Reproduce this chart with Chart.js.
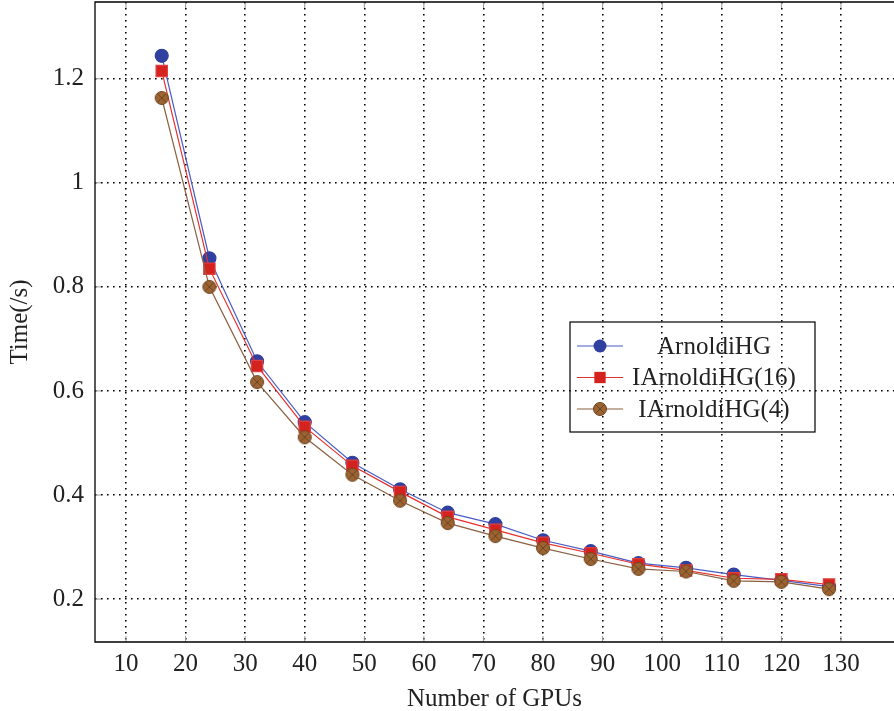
<!DOCTYPE html>
<html>
<head>
<meta charset="utf-8">
<script src="https://cdn.jsdelivr.net/npm/chart.js@4.4.0/dist/chart.umd.min.js"></script>
<style>
  html, body { margin: 0; padding: 0; background: #fff; }
  #wrap { width: 894px; height: 711px; }
</style>
</head>
<body>
<div id="wrap"><canvas id="gpuChart"></canvas></div>
<script>
// values
const gpus = [16, 24, 32, 40, 48, 56, 64, 72, 80, 88, 96, 104, 112, 120, 128];
const arnoldiHG = [1.244, 0.855, 0.657, 0.540, 0.462, 0.411, 0.366, 0.344, 0.313, 0.292, 0.269, 0.260, 0.247, 0.236, 0.224];
const iArnoldi16 = [1.215, 0.835, 0.648, 0.531, 0.456, 0.406, 0.358, 0.333, 0.308, 0.288, 0.267, 0.255, 0.240, 0.238, 0.228];
const iArnoldi4 = [1.163, 0.800, 0.617, 0.511, 0.439, 0.389, 0.346, 0.321, 0.298, 0.277, 0.258, 0.253, 0.235, 0.233, 0.219];
const xTicks = [10, 20, 30, 40, 50, 60, 70, 80, 90, 100, 110, 120, 130];
const yTicks = [0.2, 0.4, 0.6, 0.8, 1, 1.2];

const serif = "'Liberation Serif', 'DejaVu Serif', serif";

// brown circle with a cross (pgfplots otimes*)
function makeOtimes() {
    const c = document.createElement('canvas');
    c.width = 16; c.height = 16;
    const g = c.getContext('2d');
    g.beginPath();
    g.arc(8, 8, 6.5, 0, Math.PI * 2);
    g.fillStyle = '#9b6432';
    g.fill();
    g.lineWidth = 1;
    g.strokeStyle = '#6e4420';
    g.stroke();
    const d = 6.5 * Math.SQRT1_2;
    g.beginPath();
    g.moveTo(8 - d, 8 - d); g.lineTo(8 + d, 8 + d);
    g.moveTo(8 + d, 8 - d); g.lineTo(8 - d, 8 + d);
    g.stroke();
    return c;
}
const otimes = makeOtimes();

function toPoints(ys) {
    return gpus.map((x, i) => ({ x: x, y: ys[i] }));
}

// frame + inner tick marks (right side falls outside the picture)
const framePlugin = {
    id: 'frame',
    afterDraw(chart) {
        const { ctx, chartArea: a, scales } = chart;
        ctx.save();
        ctx.strokeStyle = '#999';
        ctx.lineWidth = 1;
        ctx.beginPath();
        xTicks.forEach(v => {
            const px = scales.x.getPixelForValue(v);
            ctx.moveTo(px, a.bottom); ctx.lineTo(px, a.bottom - 6);
            ctx.moveTo(px, a.top); ctx.lineTo(px, a.top + 6);
        });
        yTicks.forEach(v => {
            const py = scales.y.getPixelForValue(v);
            ctx.moveTo(a.left, py); ctx.lineTo(a.left + 6, py);
        });
        ctx.stroke();
        ctx.strokeStyle = '#000';
        ctx.lineWidth = 1.3;
        ctx.beginPath();
        ctx.moveTo(a.right + 10, a.top);
        ctx.lineTo(a.left, a.top);
        ctx.lineTo(a.left, a.bottom);
        ctx.lineTo(a.right + 10, a.bottom);
        ctx.stroke();
        ctx.restore();
    }
};

// legend box inside the plot, text centred like pgfplots
const legendPlugin = {
    id: 'innerLegend',
    afterDraw(chart) {
        const ctx = chart.ctx;
        const box = { x: 570, y: 322, w: 245, h: 110 };
        ctx.save();
        ctx.strokeStyle = '#000';
        ctx.lineWidth = 1.2;
        ctx.strokeRect(box.x, box.y, box.w, box.h);
        ctx.font = '25px ' + serif;
        ctx.textAlign = 'center';
        ctx.textBaseline = 'middle';
        chart.data.datasets.forEach((ds, i) => {
            const cy = box.y + 24 + i * 31.5;
            ctx.strokeStyle = ds.borderColor;
            ctx.lineWidth = 1.2;
            ctx.beginPath();
            ctx.moveTo(box.x + 7, cy); ctx.lineTo(box.x + 53, cy);
            ctx.stroke();
            const mx = box.x + 30;
            if (ds.pointStyle === otimes) {
                ctx.drawImage(otimes, mx - 8, cy - 8);
            } else {
                ctx.fillStyle = ds.pointBackgroundColor;
                ctx.beginPath();
                if (ds.pointStyle === 'rect') {
                    const s = Math.SQRT1_2 * ds.pointRadius;
                    ctx.rect(mx - s, cy - s, 2 * s, 2 * s);
                } else {
                    ctx.arc(mx, cy, ds.pointRadius, 0, Math.PI * 2);
                }
                ctx.fill();
            }
            ctx.fillStyle = '#222';
            ctx.fillText(ds.label, 714, cy + 1);
        });
        ctx.restore();
    }
};

new Chart(document.getElementById('gpuChart'), {
    type: 'scatter',
    data: {
        datasets: [{
            label: 'ArnoldiHG',
            data: toPoints(arnoldiHG),
            showLine: true,
            borderColor: '#4a5cc4',
            backgroundColor: '#3040a0',
            pointBackgroundColor: '#3040a0',
            pointBorderColor: '#3040a0',
            pointStyle: 'circle',
            pointRadius: 6.5,
            borderWidth: 1.2,
            order: 3
        }, {
            label: 'IArnoldiHG(16)',
            data: toPoints(iArnoldi16),
            showLine: true,
            borderColor: '#e8302c',
            backgroundColor: '#d4231e',
            pointBackgroundColor: '#d4231e',
            pointBorderColor: '#e04040',
            pointStyle: 'rect',
            pointRadius: 8,
            borderWidth: 1.2,
            order: 2
        }, {
            label: 'IArnoldiHG(4)',
            data: toPoints(iArnoldi4),
            showLine: true,
            borderColor: '#8a6040',
            backgroundColor: '#9b6432',
            pointStyle: otimes,
            pointRadius: 7,
            borderWidth: 1.2,
            order: 1
        }]
    },
    options: {
        responsive: true,
        maintainAspectRatio: false,
        animation: false,
        layout: { autoPadding: false, padding: { top: 2, right: 0, left: 0, bottom: 0 } },
        plugins: {
            legend: { display: false },
            tooltip: { enabled: false }
        },
        scales: {
            x: {
                type: 'linear',
                min: 4.8,
                max: 138.9,
                afterBuildTicks: axis => { axis.ticks = xTicks.map(v => ({ value: v })); },
                afterFit: axis => {
                    axis.height = 69;
                    axis.paddingLeft = 0; axis.paddingRight = 0;
                },
                border: { display: false, dash: [1.6, 4.4] },
                grid: {
                    color: '#000',
                    lineWidth: 1.6,
                    drawTicks: false
                },
                ticks: {
                    color: '#222',
                    padding: 7,
                    font: { family: serif, size: 25 },
                    callback: v => String(v)
                },
                title: {
                    display: true,
                    text: 'Number of GPUs',
                    color: '#222',
                    padding: { top: 0, bottom: -3 },
                    font: { family: serif, size: 25 }
                }
            },
            y: {
                min: 0.1175,
                max: 1.3475,
                afterBuildTicks: axis => { axis.ticks = yTicks.map(v => ({ value: v })); },
                afterFit: axis => {
                    axis.width = 95;
                    axis.paddingTop = 0; axis.paddingBottom = 0;
                },
                border: { display: false, dash: [1.6, 4.4] },
                grid: {
                    color: '#000',
                    lineWidth: 1.6,
                    drawTicks: false
                },
                ticks: {
                    color: '#222',
                    padding: 11,
                    font: { family: serif, size: 25 },
                    callback: v => String(v)
                },
                title: {
                    display: true,
                    text: 'Time(/s)',
                    color: '#222',
                    padding: { top: 5, bottom: 0 },
                    font: { family: serif, size: 25 }
                }
            }
        }
    },
    plugins: [framePlugin, legendPlugin]
});
</script>
</body>
</html>
